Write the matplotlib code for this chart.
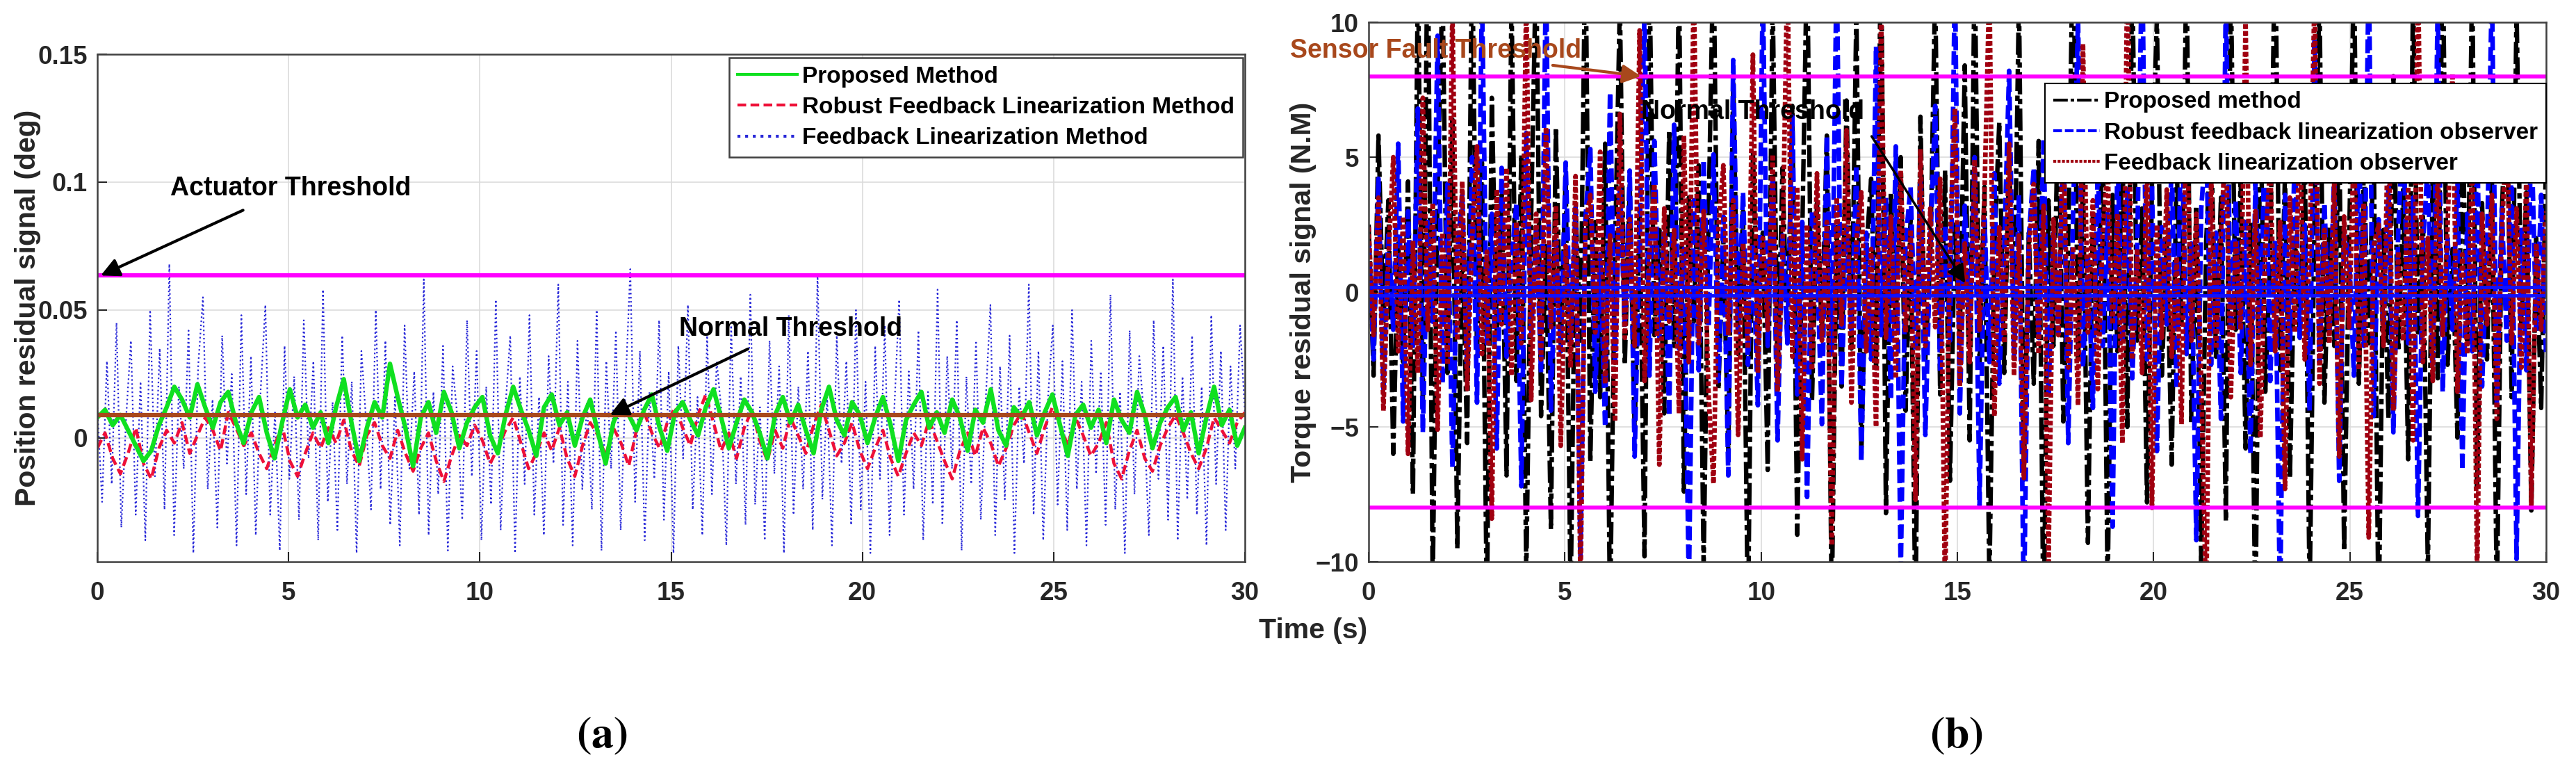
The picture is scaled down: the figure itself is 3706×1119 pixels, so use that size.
import numpy as np
import matplotlib
matplotlib.use("Agg")
import matplotlib.pyplot as plt

plt.rcParams['font.family'] = ['Liberation Sans', 'DejaVu Sans']
plt.rcParams['font.weight'] = 'bold'
plt.rcParams['mathtext.fontset'] = 'stix'

# ---- data ----
time_ticks = [0, 5, 10, 15, 20, 25, 30]

# (a) position residuals (deg)
pos_yticks = [0, 0.05, 0.1, 0.15]
pos_ytick_labels = ['0', '0.05', '0.1', '0.15']
actuator_threshold = 0.0635
pos_normal_threshold = 0.009

proposed_pos = [
    0.008, 0.011, 0.005, 0.009, 0.003, -0.003, -0.009, -0.005, 0.005, 0.012,
    0.020, 0.015, 0.008, 0.021, 0.012, 0.004, 0.014, 0.018, 0.006, -0.002,
    0.010, 0.016, 0.002, -0.008, 0.006, 0.019, 0.008, 0.013, 0.004, 0.010,
    -0.002, 0.012, 0.023, 0.006, -0.009, 0.004, 0.014, 0.008, 0.029, 0.016,
    0.004, -0.011, 0.008, 0.014, 0.002, 0.018, 0.010, -0.004, 0.006, 0.012,
    0.016, 0.001, -0.006, 0.009, 0.020, 0.011, 0.003, -0.007, 0.012, 0.017,
    0.005, 0.010, -0.003, 0.008, 0.015, 0.002, -0.010, 0.006, 0.013, 0.009,
    0.003, 0.011, 0.017, 0.004, -0.005, 0.010, 0.014, 0.007, 0.001, 0.012,
    0.019, 0.008, -0.004, 0.006, 0.015, 0.010, 0.002, -0.008, 0.009, 0.016,
    0.006, 0.013, 0.003, -0.006, 0.011, 0.020, 0.007, 0.001, 0.014, 0.009,
    -0.002, 0.008, 0.016, 0.005, -0.009, 0.007, 0.013, 0.018, 0.004, 0.010,
    0.002, 0.015, 0.008, -0.005, 0.011, 0.006, 0.019, 0.003, -0.003, 0.012,
    0.008, 0.014, 0.001, 0.010, 0.017, 0.005, -0.007, 0.009, 0.013, 0.004,
    0.011, -0.002, 0.015, 0.007, 0.002, 0.018, 0.009, -0.004, 0.006, 0.012,
    0.016, 0.003, 0.010, -0.006, 0.008, 0.020, 0.005, 0.011, -0.003, 0.004,
]

robust_pos = [
    -0.004, 0.002, -0.008, -0.014, -0.006, 0.004, -0.010, -0.016, -0.004, 0.003,
    -0.002, 0.006, -0.006, 0.001, 0.008, 0.003, -0.005, 0.010, 0.004, -0.003,
    0.002, -0.006, -0.012, -0.003, 0.005, -0.009, -0.015, -0.006, 0.002, -0.004,
    0.004, -0.002, 0.007, -0.005, -0.011, 0.001, 0.006, -0.003, -0.008, 0.003,
    -0.006, -0.013, -0.004, 0.002, -0.009, -0.017, -0.007, 0.001, -0.003, 0.005,
    -0.001, -0.010, -0.004, 0.003, 0.008, -0.002, -0.012, -0.006, 0.002, -0.005,
    0.004, -0.008, -0.015, -0.003, 0.006, 0.001, -0.007, 0.004, -0.002, -0.011,
    0.003, 0.010, 0.002, -0.004, 0.006, 0.012, 0.004, -0.003, 0.009, 0.017,
    0.006, -0.005, 0.002, -0.008, 0.004, 0.011, -0.001, -0.009, 0.003, -0.004,
    0.008, 0.001, -0.006, 0.005, 0.013, 0.003, -0.007, -0.002, 0.006, -0.005,
    -0.012, -0.004, 0.003, -0.008, -0.015, -0.006, 0.002, -0.003, 0.007, -0.001,
    -0.009, -0.016, -0.005, 0.002, -0.007, 0.004, -0.002, -0.011, -0.004, 0.005,
    0.010, 0.002, -0.006, 0.004, 0.012, 0.005, -0.003, 0.008, 0.001, -0.007,
    -0.002, 0.006, -0.010, -0.016, -0.005, 0.003, -0.008, -0.013, -0.003, 0.004,
    0.009, 0.002, -0.006, -0.012, -0.004, 0.008, 0.003, -0.002, 0.006, 0.010,
]

fl_pos = [
    0.012, -0.025, 0.030, -0.018, 0.045, -0.035, 0.008, 0.038, -0.030, 0.022,
    -0.040, 0.050, -0.015, 0.035, -0.028, 0.068, -0.038, 0.020, -0.012, 0.042,
    -0.045, 0.028, 0.055, -0.020, 0.015, -0.035, 0.040, -0.010, 0.025, -0.042,
    0.048, -0.022, 0.032, -0.038, 0.018, 0.052, -0.030, 0.010, -0.044, 0.036,
    -0.016, 0.024, -0.032, 0.046, -0.008, 0.030, -0.040, 0.058, -0.025, 0.014,
    -0.036, 0.040, -0.018, 0.022, -0.045, 0.034, 0.006, -0.028, 0.050, -0.020,
    0.038, -0.034, 0.016, -0.042, 0.044, -0.012, 0.026, -0.030, 0.062, -0.038,
    0.018, -0.022, 0.036, -0.044, 0.028, 0.008, -0.032, 0.046, -0.015, 0.034,
    -0.040, 0.020, -0.026, 0.054, -0.036, 0.012, 0.040, -0.045, 0.024, -0.018,
    0.048, -0.030, 0.016, -0.038, 0.032, -0.010, 0.060, -0.034, 0.022, -0.042,
    0.038, -0.020, 0.014, -0.028, 0.050, -0.044, 0.030, -0.012, 0.042, -0.036,
    0.020, 0.066, -0.025, 0.034, -0.040, 0.018, -0.016, 0.046, -0.032, 0.026,
    -0.045, 0.036, -0.008, 0.052, -0.028, 0.016, -0.038, 0.040, -0.022, 0.030,
    0.010, -0.042, 0.044, -0.018, 0.024, -0.034, 0.056, -0.026, 0.012, -0.040,
    0.038, -0.014, 0.028, -0.045, 0.048, -0.030, 0.020, -0.020, 0.034, -0.036,
    0.064, -0.024, 0.016, -0.042, 0.040, -0.010, 0.030, -0.034, 0.050, -0.028,
    0.022, -0.045, 0.036, -0.016, 0.044, -0.038, 0.012, 0.054, -0.030, 0.026,
    -0.020, 0.042, -0.040, 0.018, -0.026, 0.058, -0.034, 0.032, -0.012, 0.046,
    -0.044, 0.024, -0.018, 0.038, -0.032, 0.014, 0.052, -0.038, 0.028, -0.024,
    0.040, -0.045, 0.020, -0.010, 0.060, -0.030, 0.034, -0.040, 0.016, 0.044,
    -0.026, 0.030, -0.036, 0.050, -0.020, 0.022, -0.042, 0.038, -0.014, 0.026,
    -0.034, 0.056, -0.028, 0.018, -0.045, 0.042, -0.022, 0.032, 0.008, -0.038,
    0.046, -0.016, 0.036, -0.032, 0.062, -0.040, 0.024, -0.024, 0.040, -0.030,
    0.020, -0.042, 0.048, -0.018, 0.034, -0.036, 0.028, -0.012, 0.044, 0.010,
]

# (b) torque residuals (N.M)
torque_yticks = [-10, -5, 0, 5, 10]
sensor_threshold = 8.0
torque_normal_band = [0.18, -0.13]

proposed_torque = [
    2.5, -3.1, 5.8, -1.2, 3.4, -6.0, 1.8, -2.6, 4.1, -7.5,
    12.0, -4.2, 14.0, -11.0, 3.8, 11.5, -3.0, 6.4, -9.5, 2.1,
    -5.6, 13.0, -2.4, 4.8, -12.0, 7.2, -1.5, 3.6, -6.8, 11.0,
    -3.3, 5.1, -10.5, 2.9, 12.5, -4.6, 1.7, -8.8, 6.1, -2.2,
    4.4, -11.5, 3.2, -1.8, 13.5, -6.3, 2.6, -3.9, 5.5, -12.0,
    1.4, 10.8, -2.7, 4.0, -5.2, 3.1, -9.8, 12.2, -1.6, 2.3,
    -4.5, 6.0, -2.0, 11.8, -7.4, 3.5, -1.1, 4.7, -10.2, 2.8,
    13.0, -3.6, 1.9, -5.9, 7.8, -2.3, 3.0, -12.5, 5.2, -1.4,
    2.2, -6.6, 11.2, -3.2, 4.6, -1.9, 6.9, -9.0, 2.0, 12.8,
    -4.0, 3.3, -1.6, 5.8, -11.8, 2.4, -3.5, 7.1, -2.1, 10.5,
    -6.1, 1.5, 4.2, -2.9, 13.2, -8.2, 3.7, -1.3, 5.0, -4.4,
    2.7, -12.2, 6.5, -2.5, 1.2, 11.4, -3.8, 4.5, -7.0, 2.5,
    -1.7, 8.4, -5.5, 12.6, -2.8, 3.9, -10.8, 1.6, 6.3, -3.0,
    4.9, -1.0, 11.0, -6.7, 2.2, -3.4, 5.6, -12.8, 3.4, -2.0,
    7.5, -4.8, 1.8, 13.8, -2.6, 4.3, -9.3, 2.9, -1.5, 6.7,
    -11.2, 3.6, -2.2, 5.3, -5.0, 12.0, -1.8, 3.1, -7.8, 4.0,
    10.2, -3.1, 2.0, -6.4, 4.8, -1.2, 12.4, -4.9, 3.2, -10.0,
    1.9, 5.9, -2.4, 3.5, -8.5, 11.6, -1.4, 4.1, -5.8, 2.6,
    -12.4, 7.0, -3.7, 1.3, 13.4, -2.9, 4.4, -6.9, 2.1, -1.6,
    5.4, -11.4, 3.0, 10.9, -4.1, 2.4, -2.0, 6.2, -9.6, 1.7,
    12.1, -3.4, 4.6, -1.9, 5.7, -12.6, 2.3, -4.7, 8.0, -2.2,
    3.8, -6.2, 11.3, -1.5, 2.8, -10.4, 4.9, -3.2, 13.1, -2.7,
    1.6, -5.4, 6.6, -1.8, 11.9, -7.2, 3.3, -2.5, 4.2, -11.6,
    2.9, 7.6, -3.9, 10.6, -1.3, 3.7, -8.1, 2.0, -4.3, 5.2,
]

robust_torque = [
    1.8, -2.5, 4.2, -3.6, 2.2, -1.4, 5.5, -4.8, 3.0, -2.0,
    6.8, -5.2, 2.6, -1.1, 9.5, -3.4, 4.0, -6.5, 1.5, 3.6,
    -2.8, 5.0, -4.1, 11.2, -1.9, 2.9, -5.8, 4.6, -2.4, 1.2,
    3.3, -7.2, 5.9, -1.6, 2.4, -3.0, 12.0, -4.4, 1.9, -2.2,
    4.8, -1.8, 3.1, -9.8, 2.7, 5.3, -3.7, 1.4, -5.0, 7.4,
    -2.6, 3.9, -1.2, 4.5, -6.1, 2.0, 10.4, -3.1, 5.6, -1.7,
    2.3, -4.6, 6.2, -2.1, 1.6, -11.0, 3.4, -2.9, 4.9, -1.3,
    5.1, -3.3, 2.8, -6.8, 8.6, -1.5, 3.7, -2.7, 1.8, -4.2,
    11.5, -2.0, 4.3, -5.5, 2.1, -1.9, 6.5, -3.8, 2.6, -7.6,
    3.0, 1.3, -4.9, 5.8, -2.3, 12.3, -3.5, 2.4, -1.4, 4.7,
    -6.3, 2.2, -2.5, 9.1, -1.6, 3.5, -4.0, 5.4, -10.6, 1.9,
    3.9, -2.2, 4.1, -5.3, 1.7, 6.9, -3.0, 2.5, -1.8, 11.7,
    -4.5, 3.2, -1.3, 5.0, -7.9, 2.7, -2.6, 4.4, -3.4, 1.5,
    8.2, -2.4, 3.6, -12.1, 2.0, 4.6, -1.7, 5.7, -3.9, 2.3,
    -1.5, 6.0, -5.6, 3.0, 10.1, -2.8, 1.4, -4.3, 4.8, -2.0,
    2.9, -8.7, 5.2, -1.9, 3.8, -3.2, 1.6, 12.6, -2.5, 4.0,
    -5.9, 2.4, -1.2, 4.9, -3.6, 7.3, -2.3, 1.8, -9.2, 3.1,
    5.6, -2.7, 2.2, -4.7, 11.0, -1.4, 3.4, -3.0, 2.6, -6.0,
    4.1, -1.6, 6.7, -3.3, 1.9, -11.8, 3.6, -2.1, 5.3, -1.7,
    2.5, -4.4, 9.4, -2.6, 3.3, -1.5, 4.5, -7.0, 2.1, 1.4,
    -3.1, 5.7, -2.0, 12.2, -4.6, 2.7, -1.3, 3.9, -5.2, 2.3,
    6.4, -1.9, 3.5, -8.3, 1.7, 4.8, -2.8, 10.8, -3.7, 2.0,
    -1.4, 4.2, -6.6, 2.9, -2.2, 5.5, -3.5, 1.6, 11.4, -4.1,
    3.1, -1.8, 4.7, -9.9, 2.4, -2.9, 6.1, -1.5, 3.6, -2.4,
]

fl_torque = [
    2.4, -1.6, 3.5, -4.4, 1.2, 5.0, -2.2, 2.8, -6.0, 1.9,
    -3.0, 7.2, -1.4, 3.3, -5.1, 2.2, -2.7, 10.5, -1.8, 4.1,
    -3.6, 2.0, 5.4, -2.3, 1.5, -8.4, 3.8, -1.2, 4.6, -3.1,
    2.6, -1.9, 11.0, -4.0, 2.9, -2.5, 6.1, -1.3, 3.2, -5.7,
    1.7, -2.8, 4.3, -10.9, 2.5, 3.6, -1.5, 5.2, -3.4, 2.1,
    -4.8, 6.6, -1.7, 2.7, -2.0, 9.7, -3.3, 1.4, 4.0, -6.4,
    3.1, -1.1, 2.3, -4.5, 5.8, -2.6, 11.6, -1.9, 3.0, -3.8,
    -7.1, 2.4, 4.7, -1.6, 3.4, -5.3, 1.8, -2.1, 8.8, -3.0,
    2.0, -1.4, 5.1, -3.7, 1.3, 12.1, -2.4, 3.9, -6.2, 2.5,
    -2.9, 4.4, -1.8, 2.6, -9.4, 3.5, -1.2, 6.0, -4.1, 1.9,
    3.7, -2.2, 1.6, -5.0, 10.2, -1.7, 2.8, -3.2, 4.5, -1.5,
    2.3, -7.7, 5.3, -2.0, 3.1, -1.3, 4.2, -11.3, 2.0, 6.8,
    -3.5, 1.8, -2.6, 4.9, -1.4, 3.6, 11.5, -4.6, 2.4, -1.9,
    5.5, -3.1, 2.1, -6.9, 1.5, 4.0, -2.3, 3.2, -10.0, 2.7,
    -1.6, 6.3, -2.8, 1.7, -4.2, 9.2, -1.5, 3.4, -3.6, 2.2,
    4.6, -1.2, 2.9, -5.6, 12.4, -2.5, 1.6, -3.0, 5.0, -8.0,
    2.5, -1.7, 3.8, -2.4, 1.3, -4.9, 7.5, -1.8, 2.9, -3.3,
    -11.8, 4.3, -2.1, 2.2, 5.7, -3.9, 1.9, -1.4, 10.1, -2.7,
    3.0, -5.4, 1.6, 4.8, -2.2, 2.6, -7.3, 3.5, -1.5, 6.4,
    -2.5, 1.4, 11.2, -3.4, 2.3, -1.9, 4.1, -6.1, 2.8, -1.3,
    5.6, -2.9, 3.3, -9.1, 1.7, 2.5, -2.0, 6.9, -4.4, 1.5,
    -1.8, 3.9, -5.5, 12.0, -2.6, 2.0, -3.3, 4.7, -1.6, 2.4,
    8.1, -3.7, 1.4, -2.3, 5.2, -10.6, 2.9, -1.2, 3.6, -4.7,
    2.1, 6.2, -1.9, 3.1, -2.8, 4.4, -7.9, 1.8, -1.4, 3.0,
]

# ---- figure ----
W, H = 3706, 1119
fig = plt.figure(figsize=(W / 100, H / 100), dpi=100)
axc = '#262626'
brown = '#a8481c'


def style_axes(ax):
    ax.set_xlim(0, 30)
    ax.set_xticks(time_ticks)
    ax.grid(True, color='#dcdcdc', lw=1.2)
    ax.set_axisbelow(True)
    ax.tick_params(direction='in', length=10, width=1.5, colors=axc,
                   labelsize=26.5)
    ax.tick_params(axis='x', pad=20)
    ax.tick_params(axis='y', pad=10)
    for s in ax.spines.values():
        s.set_color('#404040')
        s.set_linewidth(1.8)
    for lab in ax.get_xticklabels() + ax.get_yticklabels():
        lab.set_fontweight('bold')


# (a)
ax1 = fig.add_axes([140 / W, 1 - 808 / H, (1791 - 140) / W, (808 - 78) / H])
t_slow = np.linspace(0, 30, len(proposed_pos))
t_fast = np.linspace(0, 30, len(fl_pos))
l3, = ax1.plot(t_fast, fl_pos, ':', color='#2828d8', lw=1.6,
               label='Feedback Linearization Method')
l2, = ax1.plot(t_slow, robust_pos, '--', color='#ee1038', lw=3.2,
               dashes=(3, 1.5), label='Robust Feedback Linearization Method')
l1, = ax1.plot(t_slow, proposed_pos, '-', color='#10e020', lw=4.6,
               label='Proposed Method')
ax1.axhline(actuator_threshold, color='#ff00ff', lw=4.5)
ax1.axhline(pos_normal_threshold, color=brown, lw=4.5)
ax1.set_ylim(-0.0484, 0.15)
ax1.set_yticks(pos_yticks)
ax1.set_yticklabels(pos_ytick_labels)
style_axes(ax1)
leg1 = ax1.legend(handles=[l1, l2, l3], loc='upper right',
                  bbox_to_anchor=(0.998, 0.993), fontsize=24, frameon=True,
                  fancybox=False, framealpha=1, edgecolor='#404040',
                  handlelength=2.6, handletextpad=0.2, labelspacing=0.4,
                  borderpad=0.35, borderaxespad=0)
leg1.get_frame().set_linewidth(1.8)
for h in leg1.get_lines():
    h.set_linewidth(3)
for tx in leg1.get_texts():
    tx.set_fontweight('bold')

ax1.annotate('Actuator Threshold', xy=(0.09, actuator_threshold),
             xytext=(1.9, 0.0975), fontsize=27, fontweight='bold',
             va='center', ha='left', color='black',
             arrowprops=dict(arrowstyle='-|>', color='black', lw=3,
                             mutation_scale=40, shrinkA=18, shrinkB=0))
ax1.annotate('Normal Threshold', xy=(13.4, pos_normal_threshold),
             xytext=(15.2, 0.0427), fontsize=27, fontweight='bold',
             va='center', ha='left', color='black',
             arrowprops=dict(arrowstyle='-|>', color='black', lw=3,
                             mutation_scale=40, shrinkA=14, shrinkB=0))

# (b)
ax2 = fig.add_axes([1969 / W, 1 - 808 / H, (3663 - 1969) / W, (808 - 32) / H])
tb = np.linspace(0, 30, len(proposed_torque))
m1, = ax2.plot(tb, proposed_torque, '-.', color='black', lw=4.6,
               dashes=(5, 1.0, 1.2, 1.0), label='Proposed method')
m2, = ax2.plot(tb, robust_torque, '--', color='#0000ff', lw=4.8,
               dashes=(3, 1.0), label='Robust feedback linearization observer')
m3, = ax2.plot(tb, fl_torque, ':', color='#a00010', lw=4.8,
               dashes=(1, 0.5), label='Feedback linearization observer')
ax2.axhline(sensor_threshold, color='#ff00ff', lw=4)
ax2.axhline(-sensor_threshold, color='#ff00ff', lw=4)
for lvl in torque_normal_band:
    ax2.axhline(lvl, color='#1010ff', lw=3.5)
ax2.set_ylim(-10, 10)
ax2.set_yticks(torque_yticks)
style_axes(ax2)
leg2 = ax2.legend(handles=[m1, m2, m3], loc='upper right',
                  bbox_to_anchor=(1.0, 0.887), fontsize=24, frameon=True,
                  fancybox=False, framealpha=1, edgecolor='black',
                  handlelength=2.0, handletextpad=0.2, labelspacing=0.4,
                  borderpad=0.35, borderaxespad=0)
leg2.get_frame().set_linewidth(1.5)
for h in leg2.get_lines():
    h.set_linewidth(3)
for tx in leg2.get_texts():
    tx.set_fontweight('bold')

ax2.annotate('Sensor Fault Threshold', xy=(6.94, sensor_threshold),
             xytext=(-2.0, 8.94), fontsize=27, fontweight='bold',
             va='center', ha='left', color=brown, annotation_clip=False,
             arrowprops=dict(arrowstyle='-|>', color=brown, lw=3,
                             mutation_scale=40, shrinkA=0, shrinkB=0))
ax2.annotate('Normal Threshold', xy=(15.2, 0.33),
             xytext=(6.94, 6.67), fontsize=27, fontweight='bold',
             va='center', ha='left', color='black',
             arrowprops=dict(arrowstyle='-|>', color='black', lw=2.5,
                             mutation_scale=40, shrinkA=12, shrinkB=0,
                             relpos=(1.0, 0.0)))

# labels
fig.text(40 / W, 1 - 443 / H, 'Position residual signal (deg)', rotation=90,
         ha='center', va='center', fontsize=29.5, fontweight='bold', color=axc)
fig.text(1875 / W, 1 - 420 / H, 'Torque residual signal (N.M)', rotation=90,
         ha='center', va='center', fontsize=29.5, fontweight='bold', color=axc)
fig.text(1889 / W, 1 - 907 / H, 'Time (s)', ha='center', va='center',
         fontsize=29.5, fontweight='bold', color=axc)
fig.text(866 / W, 1 - 1058 / H, r'$(\mathbf{a})$', ha='center', va='center',
         fontsize=46, color='black')
fig.text(2815 / W, 1 - 1058 / H, r'$(\mathbf{b})$', ha='center', va='center',
         fontsize=46, color='black')

fig.savefig('out.png', dpi=100, facecolor='white')
